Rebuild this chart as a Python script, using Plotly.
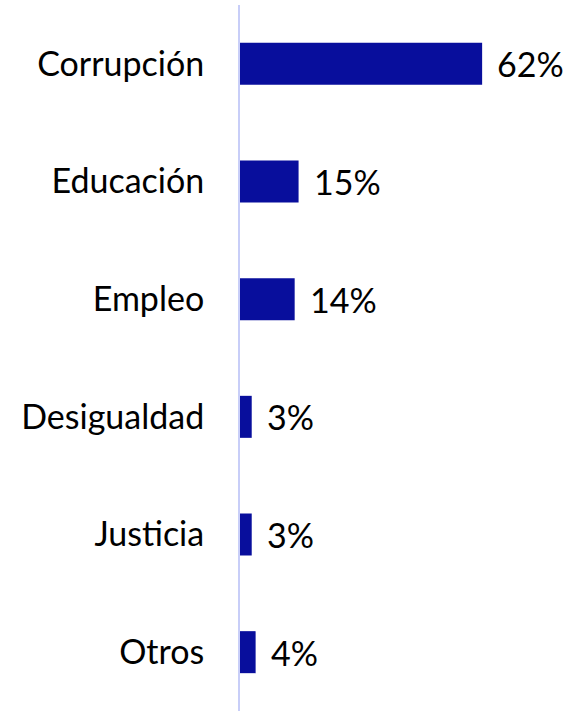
import plotly.graph_objects as go

categories = ["Corrupción", "Educación", "Empleo", "Desigualdad", "Justicia", "Otros"]
values = [62, 15, 14, 3, 3, 4]
labels = ["62%", "15%", "14%", "3%", "3%", "4%"]

BAR = "#080E9C"
FONT = "Lato, Calibri, Carlito, sans-serif"
FS = 34

fig = go.Figure(go.Bar(
    x=values, y=categories, orientation="h",
    marker=dict(color=BAR, line=dict(width=0)),
    hoverinfo="skip",
))

for c, v, t in zip(categories, values, labels):
    fig.add_annotation(x=v, y=c, text=t, showarrow=False, xanchor="left",
                       xshift=13, font=dict(size=FS, color="#000000", family=FONT))

fig.update_layout(
    width=570, height=711,
    margin=dict(l=240, r=0, t=5, b=0, autoexpand=False),
    paper_bgcolor="white", plot_bgcolor="white",
    bargap=0.643,
    showlegend=False,
    font=dict(family=FONT, size=FS, color="#000000"),
    xaxis=dict(range=[0, 84.5], visible=False, fixedrange=True, automargin=False),
    yaxis=dict(categoryorder="array", categoryarray=categories[::-1],
               showline=True, linecolor="#C8CEF8", linewidth=2,
               showgrid=False, zeroline=False, ticks="", ticklabelstandoff=27,
               tickfont=dict(size=FS, family=FONT, color="#000000"),
               automargin=False, fixedrange=True),
)

fig.write_html("out.html", config={"displayModeBar": False},
               post_script="document.body.style.margin='0';")
